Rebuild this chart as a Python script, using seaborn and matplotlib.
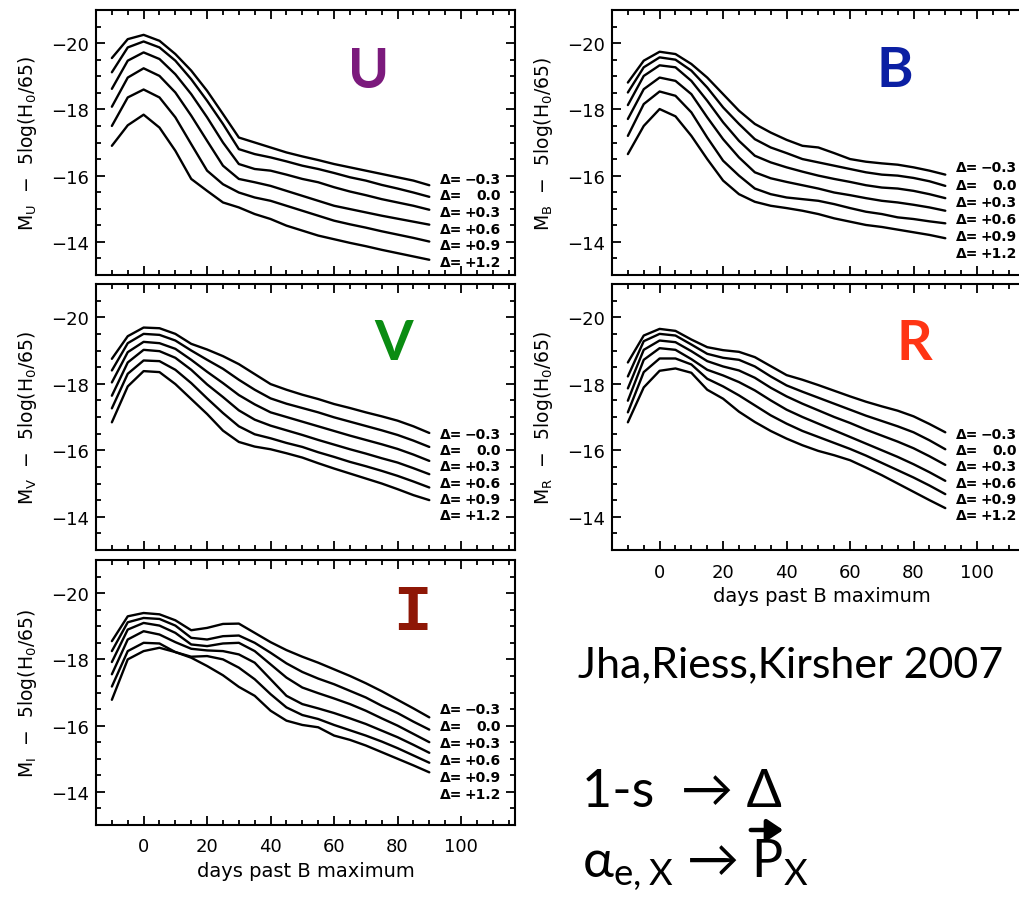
import numpy as np
import pandas as pd
import matplotlib
matplotlib.use("Agg")
import matplotlib.pyplot as plt
from matplotlib.ticker import MultipleLocator
from matplotlib.patches import FancyArrowPatch
import seaborn as sns

# ---------------- data ----------------
days = [-10, -5, 0, 5, 10, 15, 20, 25, 30, 35, 40, 45, 50, 55, 60, 65, 70, 75, 80, 85, 90]
delta_labels = ["\u22120.3", "0.0", "+0.3", "+0.6", "+0.9", "+1.2"]

mag_U = [
    [-19.55, -20.12, -20.25, -20.07, -19.67, -19.17, -18.56, -17.86, -17.15, -17.00, -16.85, -16.70, -16.58, -16.47, -16.35, -16.25, -16.15, -16.05, -15.95, -15.85, -15.71],
    [-19.12, -19.87, -20.05, -19.87, -19.47, -18.91, -18.26, -17.56, -16.80, -16.65, -16.55, -16.43, -16.30, -16.20, -16.08, -15.95, -15.85, -15.72, -15.61, -15.49, -15.36],
    [-18.62, -19.47, -19.72, -19.52, -19.06, -18.46, -17.76, -17.00, -16.35, -16.20, -16.15, -16.03, -15.90, -15.80, -15.65, -15.52, -15.41, -15.29, -15.19, -15.09, -14.97],
    [-18.08, -18.96, -19.24, -19.01, -18.51, -17.81, -17.05, -16.30, -15.90, -15.80, -15.69, -15.54, -15.39, -15.24, -15.09, -14.99, -14.89, -14.79, -14.70, -14.61, -14.52],
    [-17.50, -18.36, -18.60, -18.36, -17.76, -16.95, -16.15, -15.74, -15.49, -15.34, -15.24, -15.09, -14.94, -14.79, -14.64, -14.53, -14.43, -14.32, -14.22, -14.12, -14.01],
    [-16.90, -17.52, -17.84, -17.45, -16.75, -15.90, -15.54, -15.19, -15.04, -14.84, -14.69, -14.49, -14.34, -14.19, -14.08, -13.97, -13.87, -13.76, -13.66, -13.56, -13.46],
]
mag_B = [
    [-18.81, -19.47, -19.74, -19.67, -19.37, -18.96, -18.46, -17.96, -17.56, -17.30, -17.08, -16.90, -16.85, -16.68, -16.50, -16.42, -16.37, -16.33, -16.25, -16.15, -16.03],
    [-18.51, -19.27, -19.57, -19.50, -19.17, -18.66, -18.06, -17.56, -17.10, -16.85, -16.68, -16.50, -16.40, -16.30, -16.20, -16.10, -16.03, -16.00, -15.93, -15.83, -15.69],
    [-18.13, -19.01, -19.33, -19.27, -18.86, -18.26, -17.61, -17.05, -16.60, -16.40, -16.25, -16.12, -16.00, -15.90, -15.81, -15.71, -15.64, -15.61, -15.54, -15.44, -15.32],
    [-17.71, -18.61, -18.96, -18.86, -18.46, -17.76, -17.10, -16.55, -16.10, -15.92, -15.81, -15.71, -15.61, -15.49, -15.41, -15.32, -15.24, -15.19, -15.12, -15.04, -14.94],
    [-17.20, -18.16, -18.54, -18.41, -17.91, -17.15, -16.45, -16.00, -15.61, -15.44, -15.34, -15.29, -15.24, -15.14, -15.02, -14.91, -14.84, -14.74, -14.69, -14.62, -14.56],
    [-16.65, -17.50, -18.01, -17.79, -17.20, -16.50, -15.85, -15.44, -15.21, -15.09, -15.02, -14.94, -14.84, -14.71, -14.61, -14.51, -14.45, -14.37, -14.29, -14.21, -14.11],
]
mag_V = [
    [-18.75, -19.43, -19.69, -19.67, -19.50, -19.20, -19.03, -18.83, -18.59, -18.29, -17.99, -17.82, -17.67, -17.54, -17.39, -17.27, -17.14, -17.02, -16.89, -16.72, -16.52],
    [-18.40, -19.22, -19.50, -19.47, -19.30, -19.00, -18.72, -18.45, -18.12, -17.82, -17.56, -17.40, -17.27, -17.14, -16.99, -16.86, -16.73, -16.60, -16.46, -16.29, -16.10],
    [-18.04, -18.95, -19.26, -19.22, -19.05, -18.72, -18.36, -18.02, -17.66, -17.38, -17.14, -17.00, -16.86, -16.72, -16.58, -16.44, -16.31, -16.18, -16.04, -15.87, -15.68],
    [-17.64, -18.64, -19.02, -18.98, -18.78, -18.42, -17.98, -17.60, -17.20, -16.92, -16.74, -16.60, -16.46, -16.31, -16.17, -16.03, -15.90, -15.76, -15.63, -15.46, -15.28],
    [-17.26, -18.30, -18.70, -18.68, -18.42, -18.02, -17.56, -17.12, -16.72, -16.48, -16.36, -16.22, -16.10, -15.94, -15.80, -15.65, -15.52, -15.38, -15.23, -15.06, -14.88],
    [-16.84, -17.92, -18.38, -18.35, -17.99, -17.54, -17.09, -16.59, -16.25, -16.11, -16.03, -15.91, -15.78, -15.61, -15.45, -15.30, -15.15, -15.00, -14.83, -14.65, -14.50],
]
mag_R = [
    [-18.64, -19.45, -19.65, -19.59, -19.33, -19.10, -19.01, -18.96, -18.80, -18.53, -18.26, -18.12, -17.96, -17.79, -17.62, -17.46, -17.32, -17.19, -17.02, -16.79, -16.54],
    [-18.22, -19.28, -19.50, -19.45, -19.18, -18.90, -18.78, -18.72, -18.52, -18.22, -17.95, -17.76, -17.58, -17.40, -17.22, -17.04, -16.88, -16.72, -16.54, -16.30, -16.03],
    [-17.86, -19.02, -19.30, -19.25, -18.98, -18.68, -18.52, -18.40, -18.18, -17.88, -17.62, -17.40, -17.20, -17.00, -16.82, -16.62, -16.44, -16.26, -16.06, -15.82, -15.56],
    [-17.49, -18.72, -19.07, -19.02, -18.74, -18.42, -18.25, -18.05, -17.80, -17.50, -17.22, -17.00, -16.80, -16.60, -16.40, -16.20, -16.00, -15.80, -15.58, -15.34, -15.08],
    [-17.14, -18.35, -18.76, -18.76, -18.58, -18.15, -17.92, -17.65, -17.35, -17.05, -16.80, -16.58, -16.40, -16.22, -16.04, -15.84, -15.62, -15.40, -15.18, -14.94, -14.68],
    [-16.84, -17.89, -18.39, -18.46, -18.33, -17.82, -17.55, -17.16, -16.85, -16.58, -16.35, -16.15, -15.98, -15.85, -15.70, -15.48, -15.25, -15.00, -14.75, -14.50, -14.26],
]
mag_I = [
    [-18.55, -19.30, -19.40, -19.36, -19.18, -18.88, -18.95, -19.07, -19.08, -18.80, -18.52, -18.28, -18.08, -17.90, -17.70, -17.50, -17.28, -17.04, -16.78, -16.52, -16.25],
    [-18.25, -19.12, -19.25, -19.22, -19.02, -18.65, -18.60, -18.70, -18.72, -18.50, -18.20, -17.88, -17.62, -17.42, -17.25, -17.05, -16.85, -16.60, -16.38, -16.12, -15.88],
    [-17.92, -18.90, -19.10, -19.02, -18.80, -18.45, -18.40, -18.48, -18.50, -18.25, -17.85, -17.45, -17.15, -16.98, -16.82, -16.65, -16.45, -16.22, -16.00, -15.75, -15.50],
    [-17.55, -18.60, -18.85, -18.75, -18.52, -18.32, -18.27, -18.25, -18.15, -17.90, -17.40, -16.90, -16.65, -16.52, -16.38, -16.22, -16.05, -15.85, -15.65, -15.42, -15.18],
    [-17.18, -18.25, -18.50, -18.48, -18.22, -18.08, -18.10, -18.00, -17.75, -17.40, -16.95, -16.55, -16.32, -16.20, -16.02, -15.86, -15.70, -15.52, -15.32, -15.10, -14.88],
    [-16.78, -18.00, -18.25, -18.35, -18.22, -18.05, -17.80, -17.52, -17.17, -16.90, -16.45, -16.15, -16.02, -15.95, -15.70, -15.57, -15.40, -15.20, -15.00, -14.80, -14.59],
]

band_names = ["U", "B", "V", "R", "I"]
band_colors = ["#7B1A7C", "#0B1FA3", "#0A8C12", "#FF3514", "#8E1706"]

# ---------------- figure ----------------
sns.set_style("ticks")
plt.rcParams["font.family"] = ["DejaVu Sans"]
plt.rcParams["axes.linewidth"] = 1.5
for key in ["text.color", "axes.labelcolor", "xtick.color", "ytick.color", "axes.edgecolor"]:
    plt.rcParams[key] = "black"

W, H = 1019, 903
fig = plt.figure(figsize=(W / 100, H / 100), dpi=100)


def add_ax(l, t, r, b):
    return fig.add_axes([l / W, 1 - b / H, (r - l) / W, (b - t) / H])


# (band, data, pixel box, show x labels, first label mag, label step)
layout = [
    ("U", mag_U, (96, 11, 515, 276), False, -15.90, 0.50),
    ("B", mag_B, (612, 11, 1031, 276), False, -16.25, 0.52),
    ("V", mag_V, (96, 285, 515, 551), False, -16.50, 0.49),
    ("R", mag_R, (612, 285, 1031, 551), True, -16.50, 0.49),
    ("I", mag_I, (96, 561, 515, 826), True, -16.50, 0.51),
]

for band, mags, box, xlab, lab0, labstep in layout:
    ax = add_ax(*box)
    rows = []
    for dl, curve in zip(delta_labels, mags):
        for d, m in zip(days, curve):
            rows.append((d, m, dl))
    df = pd.DataFrame(rows, columns=["day", "mag", "delta"])
    sns.lineplot(data=df, x="day", y="mag", hue="delta", hue_order=delta_labels,
                 palette=["black"] * 6, legend=False, estimator=None, sort=False,
                 linewidth=1.7, ax=ax)
    ax.set_xlim(-15, 117)
    ax.set_ylim(-13, -21)
    ax.xaxis.set_major_locator(MultipleLocator(20))
    ax.xaxis.set_minor_locator(MultipleLocator(5))
    ax.yaxis.set_major_locator(MultipleLocator(2))
    ax.yaxis.set_minor_locator(MultipleLocator(0.5))
    ax.tick_params(which="both", direction="in", top=True, right=True,
                   width=1.3, colors="black", labelsize=13)
    ax.tick_params(which="major", length=6.5)
    ax.tick_params(which="minor", length=3.5)
    ax.tick_params(axis="y", pad=5)
    ax.tick_params(axis="x", pad=9)
    ax.set_xticks([0, 20, 40, 60, 80, 100])
    for sp in ax.spines.values():
        sp.set_visible(True)
        sp.set_linewidth(1.5)
        sp.set_color("black")
    ax.set_ylabel("M$_{\\mathregular{" + band + "}}$  \u2212  5log(H$_{\\mathregular{0}}$/65)",
                  fontsize=13.5, color="black")
    ax.yaxis.set_label_coords(-0.135, 0.5)
    if xlab:
        ax.set_xlabel("days past B maximum", fontsize=14, color="black")
        ax.xaxis.set_label_coords(0.5, -0.135)
    else:
        ax.set_xlabel("")
        ax.tick_params(axis="x", labelbottom=False)
    # delta labels
    for i, dl in enumerate(delta_labels):
        y = lab0 + i * labstep
        ax.text(93.3, y, "\u0394=", fontsize=10, fontweight="bold",
                ha="left", va="center", color="black")
        ax.text(112.6, y, dl, fontsize=10, fontweight="bold",
                ha="right", va="center", color="black")

# big band letters (pixel positions: center x, baseline y)
letter_pos = {"U": (369, 88), "B": (895, 87), "V": (394, 360), "R": (914, 360), "I": (412, 630)}
for name, col in zip(band_names, band_colors):
    x, y = letter_pos[name]
    if name == "I":
        fig.text(x / W, 1 - y / H, name, color=col, fontsize=46, fontweight="bold",
                 family=["Liberation Mono"], ha="center", va="baseline")
    else:
        fig.text(x / W, 1 - y / H, name, color=col, fontsize=40, fontweight="bold",
                 family=["Lato", "DejaVu Sans"], ha="center", va="baseline")

# annotation text at bottom right
fam = ["Lato", "DejaVu Sans"]
fig.text(578 / W, 1 - 677 / H, "Jha,Riess,Kirsher 2007", fontsize=31, family=fam,
         ha="left", va="baseline", color="black")
fig.text(582 / W, 1 - 807 / H, "1-s  \u2192 \u0394", fontsize=37.5, family=fam,
         ha="left", va="baseline", color="black")
fig.text(582 / W, 1 - 877 / H,
         "\u03b1$_{\\mathregular{e,X}}$ \u2192 P$_{\\mathregular{X}}$", fontsize=37.5,
         family=fam, ha="left", va="baseline", color="black")
# vector arrow over P (drawn as a patch, not text)
arrow = FancyArrowPatch((748 / W, 1 - 831 / H), (786 / W, 1 - 831 / H),
                        transform=fig.transFigure, arrowstyle="-|>,head_length=6,head_width=4",
                        mutation_scale=1.6, linewidth=3.2, color="black")
fig.patches.append(arrow)

fig.savefig("out.png", dpi=100)
